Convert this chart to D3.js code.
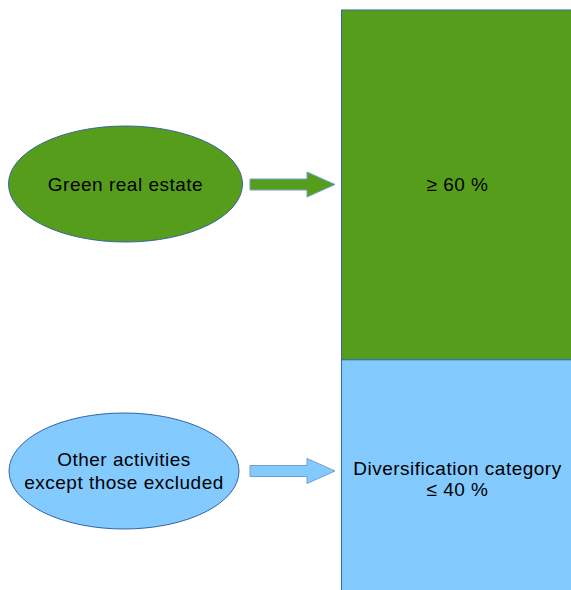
<!DOCTYPE html>
<html><head><meta charset="utf-8">
<script src="https://cdn.jsdelivr.net/npm/d3@7"></script>
<style>html,body{margin:0;padding:0;background:#fff;overflow:hidden}text{font-family:"Liberation Sans",Arial,sans-serif}</style>
</head><body><svg id="c" width="571" height="590"></svg>
<script>
// Data
const categories = ["Green real estate", "Other activities|except those excluded"];
const shares = [60, 40];
const shareLabels = ["≥ 60 %", "Diversification category|≤ 40 %"];
const fillColors = ["#579d1c", "#83caff"];

const W = 571, H = 590;
const svg = d3.select("#c");
const stroke = "#3465a4";
const FS = 19, LS = 0.5;

// y scale: cumulative percent -> pixels
const y = d3.scaleLinear().domain([0, 100]).range([10, 593]);
let cum = 0;
const segs = shares.map((v, i) => { const s = {i, v, y0: cum, y1: cum + v}; cum += v; return s; });

const barX = 341.5;
svg.selectAll("rect.seg").data(segs).join("rect").attr("class","seg")
  .attr("x", barX).attr("y", d => y(d.y0)).attr("width", 260)
  .attr("height", d => y(d.y1) - y(d.y0))
  .attr("fill", d => fillColors[d.i]).attr("stroke", stroke).attr("stroke-width", 1);

// labels in segments
const segTextY = [[190.5], [475, 495.5]];
segs.forEach((d, i) => {
  const lines = shareLabels[i].split("|");
  const t = svg.append("text").attr("text-anchor","middle").attr("font-size", FS).attr("letter-spacing", LS).attr("fill","#000");
  lines.forEach((l, j) => t.append("tspan").attr("x", 457.5).attr("y", segTextY[i][j]).text(l));
});

// ellipses
const ell = [{cx:125.5, cy:184, rx:117, ry:58}, {cx:124, cy:471, rx:115, ry:58}];
svg.selectAll("ellipse").data(ell).join("ellipse")
  .attr("cx", d=>d.cx).attr("cy", d=>d.cy).attr("rx", d=>d.rx).attr("ry", d=>d.ry)
  .attr("fill", (d,i)=>fillColors[i]).attr("stroke", stroke).attr("stroke-width", 1);

const catY = [[190.5],[465.5, 488.5]];
categories.forEach((c, i) => {
  const lines = c.split("|");
  const t = svg.append("text").attr("text-anchor","middle").attr("font-size", FS).attr("letter-spacing", LS).attr("fill","#000");
  lines.forEach((l, j) => t.append("tspan").attr("x", ell[i].cx).attr("y", catY[i][j]).text(l));
});

// arrows
const arrowCY = [184.5, 471];
const arrow = (cy) => {
  const x0 = 250, xs = 307, xt = 335, sh = 5.5, hh = 12.5;
  return `M${x0},${cy-sh}L${xs},${cy-sh}L${xs},${cy-hh}L${xt},${cy}L${xs},${cy+hh}L${xs},${cy+sh}L${x0},${cy+sh}Z`;
};
svg.selectAll("path.arrow").data(arrowCY).join("path").attr("class","arrow")
  .attr("d", d => arrow(d)).attr("fill", (d,i)=>fillColors[i]).attr("stroke", "#729fcf").attr("stroke-width", 1);
</script></body></html>
